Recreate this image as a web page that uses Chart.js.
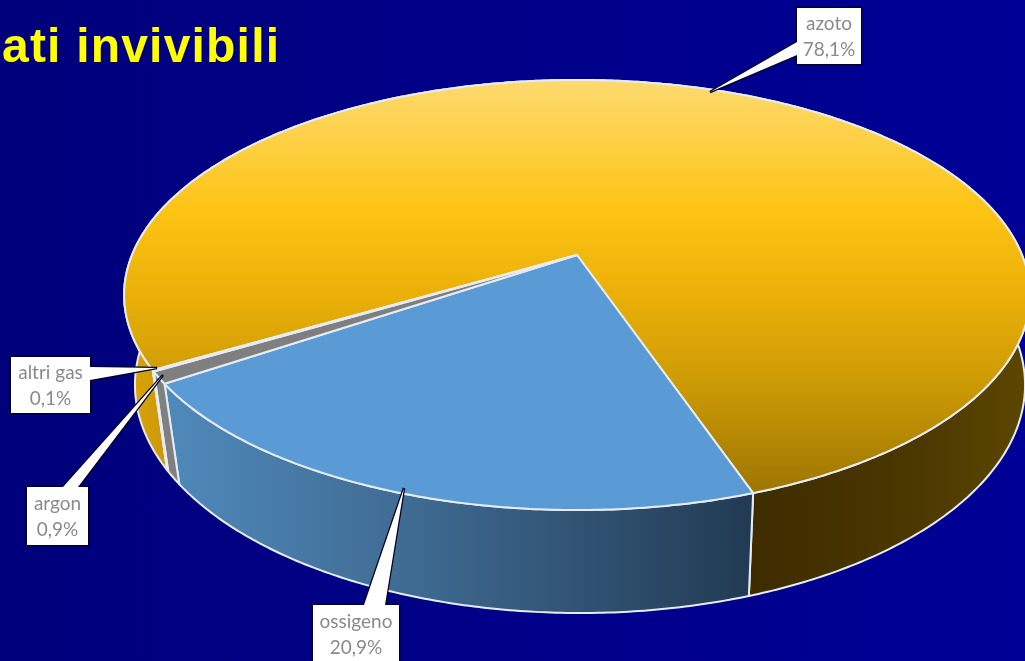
<!DOCTYPE html>
<html>
<head>
<meta charset="utf-8">
<title>Gas dell'aria</title>
<script src="https://cdn.jsdelivr.net/npm/chart.js@4"></script>
<style>
	html, body { margin: 0; padding: 0; width: 1025px; height: 661px; overflow: hidden; background: linear-gradient(90deg, #00007c, #000096); }
	canvas { display: block; filter: blur(0.5px); }
</style>
</head>
<body>
<canvas id="mycanvas" width="1025" height="661"></canvas>
<script>
var categories = ["azoto", "ossigeno", "argon", "altri gas"];
var percentages = [78.1, 20.9, 0.9, 0.1];
var titleText = "ati invivibili";

// flat colours of the slices, azoto gets its gradient in the plugin
var sliceColors = ["#fbbf0e", "#5b9bd5", "#7f7f7f", "#a5a5a5"];

// projection of the pie disc on the page: apex, half axes, perspective
var topDisc = { x: 577, y: 255, a: 445, b: 207.6, p: 0.186 };
var bottomDisc = { x: 580, y: 348.5, a: 439.3, b: 222.2, p: 0.16 };

// callout boxes, same order as categories
var callouts = [
	{ box: [797, 8, 64, 56], tip: [710, 92], base: [[797, 42], [797, 55]] },
	{ box: [313, 605, 86, 57], tip: [404, 488], base: [[364, 605], [385, 605]] },
	{ box: [27, 487, 61, 58], tip: [163, 375], base: [[63, 487], [78, 487]] },
	{ box: [11, 357, 79, 56], tip: [157, 368], base: [[90, 367], [90, 380]] }
];

function project(disc, angle) {
	var u = Math.cos(angle);
	var v = Math.sin(angle);
	var w = 1 - disc.p * v;
	return [disc.x + disc.a * u / w, disc.y + disc.b * v / w];
}

function rimPoints(disc, start, end) {
	var pts = [];
	var steps = Math.max(2, Math.ceil((end - start) / 0.01));
	for (var i = 0; i <= steps; i++) {
		pts.push(project(disc, start + (end - start) * i / steps));
	}
	return pts;
}

function tracePoints(ctx, pts) {
	for (var i = 0; i < pts.length; i++) {
		ctx.lineTo(pts[i][0], pts[i][1]);
	}
}

function hGradient(ctx, stops) {
	var g = ctx.createLinearGradient(124, 0, 1030, 0);
	for (var i = 0; i < stops.length; i++) {
		g.addColorStop((stops[i][0] - 124) / 906, stops[i][1]);
	}
	return g;
}

function wallFill(ctx, index) {
	if (index == 0) {
		return hGradient(ctx, [[124, "#dfa609"], [175, "#c8950a"], [176, "#3e2c00"], [750, "#3e2c00"], [900, "#493600"], [1030, "#5c4700"]]);
	}
	if (index == 1) {
		return hGradient(ctx, [[165, "#4f8abb"], [400, "#406c94"], [750, "#223b54"]]);
	}
	return "#808080";
}

function topFill(ctx, index) {
	if (index != 0) {
		return sliceColors[index];
	}
	var g = ctx.createLinearGradient(0, 80, 0, 510);
	g.addColorStop(0, "#fdda70");
	g.addColorStop(0.3, "#fdc414");
	g.addColorStop(0.5, "#eab008");
	g.addColorStop(0.7, "#cd9b05");
	g.addColorStop(1, "#967000");
	return g;
}

var pie3d = {
	id: "pie3d",
	beforeDraw: function(chart) {
		// the title of the slide is set wider than the plain font
		chart.ctx.letterSpacing = "1.2px";
	},
	beforeDatasetDraw: function(chart, args) {
		var ctx = chart.ctx;
		var arcs = chart.getDatasetMeta(args.index).data;
		ctx.save();
		ctx.letterSpacing = "0px";
		ctx.lineWidth = 2;
		ctx.lineJoin = "round";
		ctx.strokeStyle = "#e6ecf4";

		// side walls first, the top face hides the back ones
		arcs.forEach(function(arc, i) {
			var a = arc.getProps(["startAngle", "endAngle"], true);
			ctx.beginPath();
			var upper = rimPoints(topDisc, a.startAngle, a.endAngle);
			var lower = rimPoints(bottomDisc, a.startAngle, a.endAngle).reverse();
			ctx.moveTo(upper[0][0], upper[0][1]);
			tracePoints(ctx, upper);
			tracePoints(ctx, lower);
			ctx.closePath();
			ctx.fillStyle = wallFill(ctx, i);
			ctx.fill();
			ctx.stroke();
		});

		arcs.forEach(function(arc, i) {
			var a = arc.getProps(["startAngle", "endAngle"], true);
			ctx.beginPath();
			ctx.moveTo(topDisc.x, topDisc.y);
			tracePoints(ctx, rimPoints(topDisc, a.startAngle, a.endAngle));
			ctx.closePath();
			ctx.fillStyle = topFill(ctx, i);
			ctx.fill();
			ctx.stroke();
		});
		ctx.restore();
		return false;
	},
	afterDatasetsDraw: function(chart) {
		var ctx = chart.ctx;
		ctx.save();
		ctx.letterSpacing = "0px";
		ctx.textAlign = "center";
		ctx.textBaseline = "middle";
		ctx.font = "19px Lato";
		[0, 1, 3, 2].forEach(function(i) {
			var c = callouts[i];
			var b = c.box;
			ctx.beginPath();
			ctx.moveTo(c.tip[0], c.tip[1]);
			ctx.lineTo(c.base[0][0], c.base[0][1]);
			ctx.lineTo(c.base[1][0], c.base[1][1]);
			ctx.closePath();
			ctx.rect(b[0], b[1], b[2], b[3]);
			ctx.lineWidth = 2.5;
			ctx.strokeStyle = "#00001e";
			ctx.stroke();
			ctx.fillStyle = "#ffffff";
			ctx.beginPath();
			ctx.moveTo(c.tip[0], c.tip[1]);
			ctx.lineTo(c.base[0][0], c.base[0][1]);
			ctx.lineTo(c.base[1][0], c.base[1][1]);
			ctx.closePath();
			ctx.fill();
			ctx.fillRect(b[0], b[1], b[2], b[3]);
			ctx.fillStyle = "#8a8a8a";
			var mid = b[0] + b[2] / 2;
			var top = b[1] + b[3] / 2;
			ctx.fillText(categories[i], mid, top - 12);
			ctx.fillText(percentages[i].toFixed(1).replace(".", ",") + "%", mid, top + 14);
		});
		ctx.restore();
	}
};

var chartdata = {
	labels: categories,
	datasets: [
		{
			data: percentages,
			backgroundColor: sliceColors,
			borderColor: "#e6ecf4",
			borderWidth: 2
		}
	]
};

var LineGraph = new Chart(document.getElementById("mycanvas"), {
	type: "pie",
	data: chartdata,
	plugins: [pie3d],
	options: {
		responsive: false,
		animation: false,
		rotation: 239.8,
		layout: { padding: { left: 2 } },
		plugins: {
			legend: { display: false },
			tooltip: { enabled: false },
			title: {
				display: true,
				text: titleText,
				align: "start",
				color: "#ffff00",
				font: { family: "'Liberation Sans'", size: 48, weight: "bold" },
				padding: { top: 20, bottom: 0 }
			}
		}
	}
});
</script>
</body>
</html>
